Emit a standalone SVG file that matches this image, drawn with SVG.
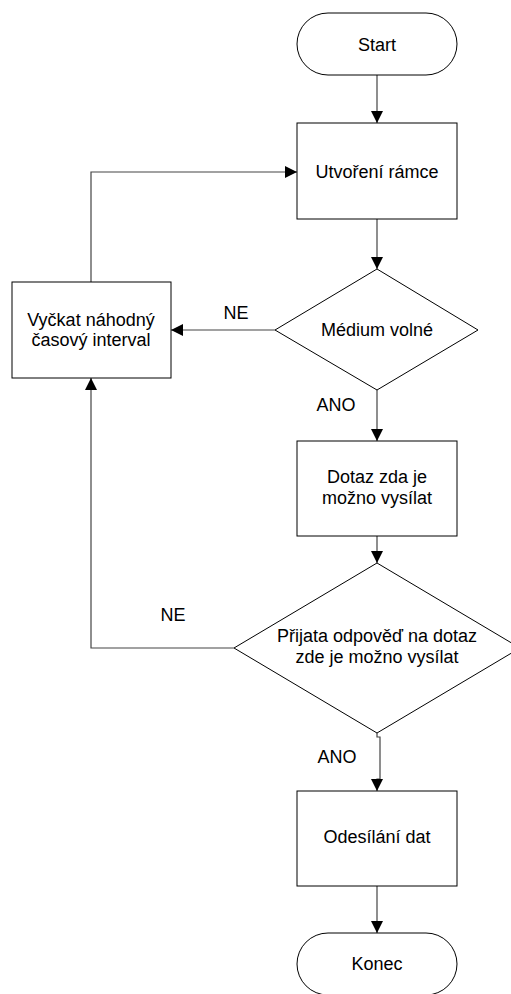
<svg xmlns="http://www.w3.org/2000/svg" width="511" height="994" viewBox="0 0 511 994">
  <defs>
    <marker id="arrow" markerUnits="userSpaceOnUse" markerWidth="12" markerHeight="12" refX="12" refY="6" orient="auto">
      <path d="M0,0 L12,6 L0,12 Z" fill="#000"/>
    </marker>
    <style>
      .shape { fill: #fff; stroke: #000; stroke-width: 1; }
      .edge { fill: none; stroke: #444; stroke-width: 1.2; marker-end: url(#arrow); }
      .plain { fill: none; stroke: #444; stroke-width: 1.2; }
      text { font-family: "Liberation Sans", Arial, sans-serif; font-size: 18px; fill: #000; text-anchor: middle; }
    </style>
  </defs>

  <rect width="511" height="994" fill="#fff"/>

  <!-- connectors -->
  <g id="connectors">
    <path class="edge" d="M377,75 V123"/>
    <path class="edge" d="M377,219 V269"/>
    <path class="edge" d="M275,330 H171"/>
    <path class="edge" d="M91,282 V172 H297"/>
    <path class="edge" d="M377,390 V441"/>
    <path class="edge" d="M377,536 V563"/>
    <path class="edge" d="M234,648 H91 V378"/>
    <path class="edge" d="M377,733 V737 H380 V779 H377 V791"/>
    <path class="edge" d="M377,886 V933"/>
    <text x="236" y="319">NE</text>
    <text x="336" y="411">ANO</text>
    <text x="173" y="621">NE</text>
    <text x="337" y="763">ANO</text>
  </g>

  <g id="start">
    <rect class="shape" x="297" y="13" width="160" height="62" rx="31" ry="31"/>
    <text x="377" y="51">Start</text>
  </g>

  <g id="utvoreni-ramce">
    <rect class="shape" x="297" y="123" width="160" height="96"/>
    <text x="377" y="178">Utvoření rámce</text>
  </g>

  <g id="medium-volne">
    <polygon class="shape" points="377,269 478,330 377,390 275,330"/>
    <text x="377" y="336">Médium volné</text>
  </g>

  <g id="vyckat">
    <rect class="shape" x="12" y="282" width="159" height="96"/>
    <text x="91" y="326">Vyčkat náhodný</text>
    <text x="91" y="346">časový interval</text>
  </g>

  <g id="dotaz">
    <rect class="shape" x="297" y="441" width="160" height="95"/>
    <text x="377" y="483">Dotaz zda je</text>
    <text x="377" y="504">možno vysílat</text>
  </g>

  <g id="prijata-odpoved">
    <polygon class="shape" points="377,563 520,648 377,733 234,648"/>
    <text x="377" y="642">Přijata odpověď na dotaz</text>
    <text x="377" y="663">zde je možno vysílat</text>
  </g>

  <g id="odesilani">
    <rect class="shape" x="297" y="791" width="160" height="95"/>
    <text x="377" y="843">Odesílání dat</text>
  </g>

  <g id="konec">
    <rect class="shape" x="297" y="933" width="160" height="62" rx="31" ry="31"/>
    <text x="377" y="970">Konec</text>
  </g>
</svg>
